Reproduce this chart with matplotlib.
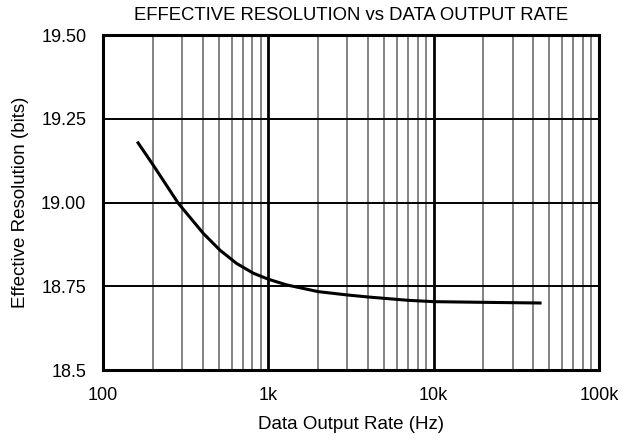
import matplotlib
matplotlib.use('Agg')
import matplotlib.pyplot as plt
import numpy as np

plt.rcParams['font.family'] = ['Liberation Sans', 'DejaVu Sans']

rate_hz = [163, 201, 285, 404, 509, 643, 811, 1000, 1291, 2000,
           3000, 4000, 5000, 7000, 10000, 20000, 44000]
res_bits = [19.178, 19.112, 18.998, 18.908, 18.858, 18.818, 18.789, 18.771, 18.754, 18.734,
            18.724, 18.718, 18.714, 18.708, 18.704, 18.702, 18.700]

xticks = [100, 1000, 10000, 100000]
xtick_labels = ['100', '1k', '10k', '100k']
yticks = [18.5, 18.75, 19.0, 19.25, 19.5]
ytick_labels = ['18.5', '18.75', '19.00', '19.25', '19.50']

fig = plt.figure(figsize=(6.28, 4.4), dpi=100)
ax = fig.add_axes([103 / 628, 1 - 370 / 440, 496 / 628, 335 / 440])

ax.set_xscale('log')
ax.set_xlim(100, 100000)
ax.set_ylim(18.5, 19.5)

# grid: decades and y ticks black, minor decades grey
for dec in [100, 1000, 10000]:
    for m in range(2, 10):
        ax.axvline(dec * m, color='#7a7a7a', lw=1.3, zorder=1)
for x in xticks[1:-1]:
    ax.axvline(x, color='black', lw=2.0, zorder=2)
for y in yticks[1:-1]:
    ax.axhline(y, color='black', lw=1.4, zorder=2)

ax.plot(rate_hz, res_bits, color='black', lw=2.2, zorder=3)

ax.set_xticks(xticks)
ax.set_xticklabels(xtick_labels, fontsize=13)
ax.set_yticks(yticks)
ax.set_yticklabels(ytick_labels, fontsize=13)
ax.xaxis.set_minor_locator(matplotlib.ticker.NullLocator())
ax.tick_params(axis='x', length=0, pad=12)
ax.tick_params(axis='y', length=0, pad=12)

for s in ax.spines.values():
    s.set_linewidth(2.2)

ax.set_xlabel('Data Output Rate (Hz)', fontsize=13.5, labelpad=9)
ax.set_ylabel('Effective Resolution (bits)', fontsize=13.5, labelpad=9)
ax.set_title('EFFECTIVE RESOLUTION vs DATA OUTPUT RATE', fontsize=13.3, pad=11)

plt.savefig('out.png', dpi=100)
